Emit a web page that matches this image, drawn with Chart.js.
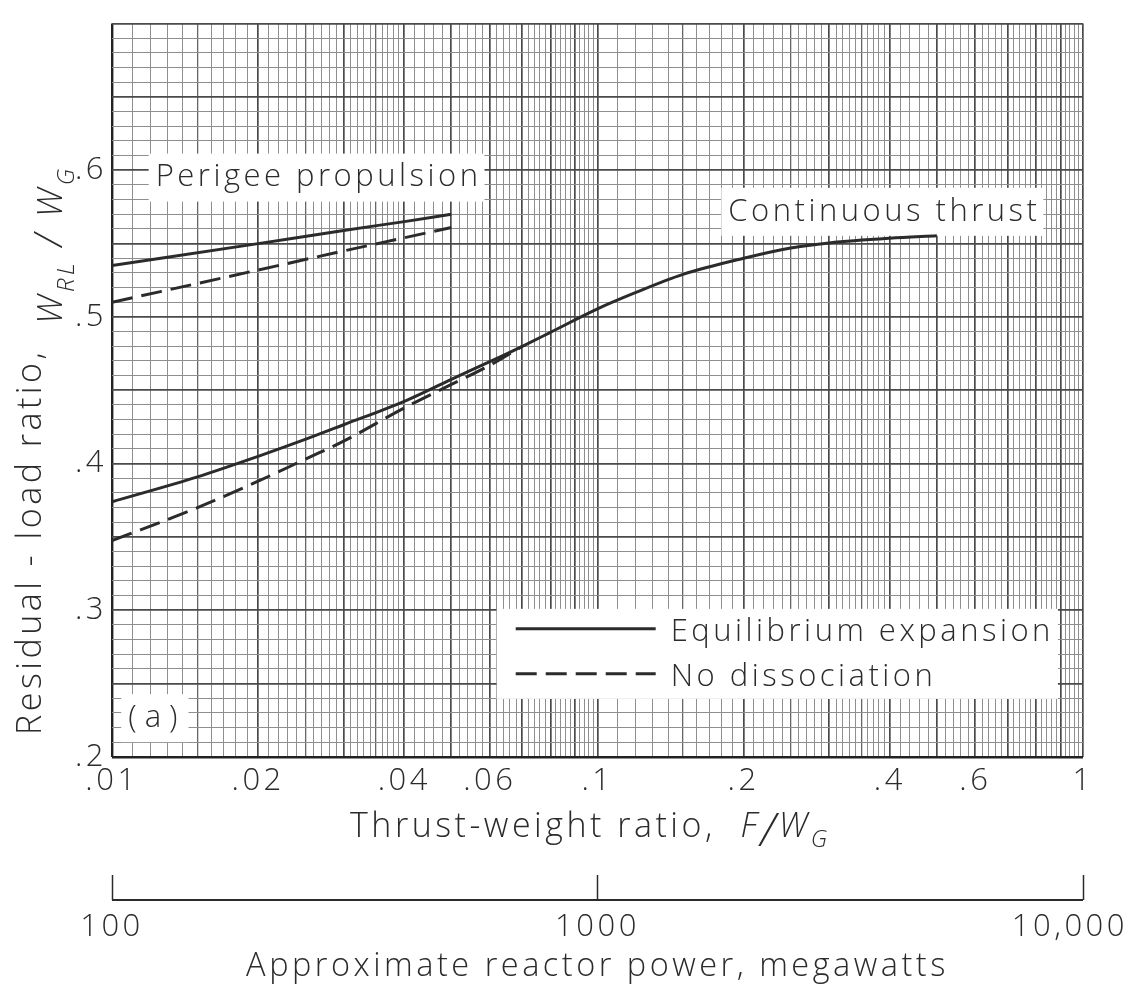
<!DOCTYPE html>
<html>
<head>
<meta charset="utf-8">
<title>Residual-load ratio vs thrust-weight ratio</title>
<script src="https://cdn.jsdelivr.net/npm/chart.js@4/dist/chart.umd.min.js"></script>
<style>
  html, body { margin: 0; padding: 0; background: #fff; }
  canvas { display: block; }
</style>
</head>
<body>
<canvas id="wrlChart" width="1134" height="985"></canvas>
<script>
// Perigee propulsion (F/W_G 0.01 - 0.05)
const perigeeX = [0.01, 0.02, 0.03, 0.04, 0.05];
const perigeeEquil = [0.535, 0.550, 0.559, 0.565, 0.570];
const perigeeNoDiss = [0.510, 0.532, 0.545, 0.554, 0.561];

// Continuous thrust
const contX = [0.01, 0.015, 0.02, 0.025, 0.03, 0.04, 0.05, 0.06, 0.07, 0.08, 0.1, 0.12, 0.15, 0.2, 0.25, 0.3, 0.4, 0.5];
const contEquil = [0.374, 0.391, 0.405, 0.4165, 0.4265, 0.4425, 0.4575, 0.4695, 0.480, 0.4895, 0.5055, 0.5167, 0.529, 0.540, 0.547, 0.5505, 0.5537, 0.5553];
const contNoDissX = [0.01, 0.015, 0.02, 0.025, 0.03, 0.04, 0.05, 0.06, 0.07];
const contNoDiss = [0.3475, 0.370, 0.388, 0.403, 0.4153, 0.438, 0.454, 0.467, 0.480];

// Axis labels
const xLabelValues = [0.01, 0.02, 0.04, 0.06, 0.1, 0.2, 0.4, 0.6, 1];
const xLabelText = ['.01', '.02', '.04', '.06', '.1', '.2', '.4', '.6', '1'];
const yLabelValues = [0.2, 0.3, 0.4, 0.5, 0.6];
const yLabelText = ['.2', '.3', '.4', '.5', '.6'];
const powerValues = [100, 1000, 10000];
const powerText = ['100', '1000', '10,000'];

const ink = '#2b2b2b';
const family = '"Open Sans", "DejaVu Sans", sans-serif';
const weight = 300;
const spacing = '3.5px';

// log paper rulings: 1-4 by 0.1, 4-10 by 0.2 in each decade
function logRulings(lo, hi) {
  const vals = [];
  for (let d = lo; d < hi * 0.999; d *= 10) {
    for (let m = 10; m < 40; m++) vals.push(Number((d * m / 10).toPrecision(6)));
    for (let m = 40; m < 100; m += 2) vals.push(Number((d * m / 10).toPrecision(6)));
  }
  vals.push(hi);
  return vals;
}
const xRulings = logRulings(0.01, 1);
const yRulings = [];
for (let i = 20; i <= 70; i++) yRulings.push(i / 100);

function xRuleKind(v) {
  if (v === 0.01) return 'edge';
  const m = Math.round(v / Math.pow(10, Math.floor(Math.log10(v) + 1e-9)) * 10);
  if (m % 10 === 0) return 'major';
  if (m === 15 || m === 25 || m === 35) return 'mid';
  return 'minor';
}
function yRuleKind(v) {
  const k = Math.round(v * 100);
  if (k === 20) return 'edge';
  return k % 5 === 0 ? 'major' : 'minor';
}
const ruleColor = { edge: '#222', major: '#4a4a4a', mid: '#666', minor: '#8e8e8e' };
const ruleWidth = { edge: 2.4, major: 1.7, mid: 1.3, minor: 1 };

function pts(xs, ys) {
  return xs.map((x, i) => ({ x: x, y: ys[i] }));
}

function fontOf(size, italic) {
  return (italic ? 'italic ' : '') + weight + ' ' + size + 'px ' + family;
}

// draws a run of text pieces (for subscripts / italics), starting at x
function drawRich(ctx, parts, x, y) {
  let cx = x;
  ctx.textAlign = 'left';
  ctx.textBaseline = 'alphabetic';
  parts.forEach(p => {
    ctx.font = fontOf(p.size, p.italic);
    ctx.fillText(p.text, cx, y + (p.dy || 0));
    cx += ctx.measureText(p.text).width;
  });
}

// Text notes on the paper
const notes = [
  { text: 'Perigee propulsion', x: 0.0123, y: 0.595 },
  { text: 'Continuous thrust', x: 0.186, y: 0.5717 },
  { text: '(a)', x: 0.0108, y: 0.2265, spacing: '8px' }
];
const legendAt = { x: 0.062, y: 0.301 };

const paperPlugin = {
  id: 'paper',
  beforeDraw(chart) {
    chart.ctx.letterSpacing = spacing;
  },
  beforeDatasetsDraw(chart) {
    const ctx = chart.ctx;
    const xs = chart.scales.x, ys = chart.scales.y;
    ctx.save();
    ctx.font = fontOf(31, false);
    ctx.textBaseline = 'middle';
    ctx.textAlign = 'left';
    notes.forEach(n => {
      ctx.letterSpacing = n.spacing || spacing;
      const px = xs.getPixelForValue(n.x);
      const py = ys.getPixelForValue(n.y);
      const w = ctx.measureText(n.text).width;
      ctx.fillStyle = '#fff';
      ctx.fillRect(px - 7, py - 24, w + 10, 48);
      ctx.fillStyle = ink;
      ctx.fillText(n.text, px, py);
    });
    ctx.letterSpacing = spacing;

    // legend box with line samples
    const seen = {};
    const items = chart.data.datasets.filter(d => {
      if (seen[d.label]) return false;
      seen[d.label] = true;
      return true;
    });
    const lx = xs.getPixelForValue(legendAt.x);
    const ly = ys.getPixelForValue(legendAt.y);
    const sample = 140;
    let tw = 0;
    items.forEach(d => { tw = Math.max(tw, ctx.measureText(d.label).width); });
    ctx.fillStyle = '#fff';
    ctx.fillRect(lx, ly, 19 + sample + 15 + tw + 4, 90);
    items.forEach((d, i) => {
      const ry = ly + 20 + i * 45;
      ctx.strokeStyle = ink;
      ctx.lineWidth = 3;
      ctx.setLineDash(d.borderDash || []);
      ctx.beginPath();
      ctx.moveTo(lx + 19, ry);
      ctx.lineTo(lx + 19 + sample, ry);
      ctx.stroke();
      ctx.setLineDash([]);
      ctx.fillStyle = ink;
      ctx.fillText(d.label, lx + 19 + sample + 15, ry + 3);
    });
    ctx.restore();
  },
  afterDraw(chart) {
    const ctx = chart.ctx;
    const area = chart.chartArea;
    ctx.save();
    ctx.letterSpacing = spacing;
    ctx.fillStyle = ink;

    // y title, reading upward from the bottom of the plot
    ctx.save();
    ctx.translate(41, 735);
    ctx.rotate(-Math.PI / 2);
    drawRich(ctx, [
      { text: 'Residual - load ratio,  ', size: 34 },
      { text: 'W', size: 34, italic: true, dy: 21 },
      { text: 'RL', size: 24, italic: true, dy: 33 },
      { text: ' / ', size: 38, italic: true, dy: 21 },
      { text: 'W', size: 34, italic: true, dy: 21 },
      { text: 'G', size: 24, italic: true, dy: 33 }
    ], 0, 0);
    ctx.restore();

    // x title
    drawRich(ctx, [
      { text: 'Thrust-weight ratio,  ', size: 34 },
      { text: 'F', size: 34, italic: true },
      { text: '/', size: 46, italic: true, dy: 9 },
      { text: 'W', size: 34, italic: true },
      { text: 'G', size: 24, italic: true, dy: 10 }
    ], 350, 837);

    // reactor power scale
    const p = chart.scales.power;
    const yLine = p.top + p.options.grid.tickLength;
    ctx.strokeStyle = ink;
    ctx.lineWidth = 2;
    ctx.beginPath();
    ctx.moveTo(p.left, yLine);
    ctx.lineTo(p.right, yLine);
    ctx.stroke();
    ctx.font = fontOf(31, false);
    ctx.textAlign = 'center';
    ctx.textBaseline = 'middle';
    powerValues.forEach((v, i) => {
      const w = ctx.measureText(powerText[i]).width;
      const px = Math.min(p.getPixelForValue(v), chart.width - 6 - w / 2);
      ctx.fillText(powerText[i], px, yLine + 27);
    });
    ctx.font = fontOf(32.5, false);
    ctx.fillText('Approximate reactor power, megawatts', (area.left + area.right) / 2, yLine + 67);
    ctx.restore();
  }
};

const tickFont = { family: family, size: 31, weight: weight };

new Chart(document.getElementById('wrlChart'), {
  type: 'line',
  data: {
    datasets: [
      { label: 'Equilibrium expansion', data: pts(perigeeX, perigeeEquil), borderDash: [] },
      { label: 'No dissociation', data: pts(perigeeX, perigeeNoDiss), borderDash: [21, 9] },
      { label: 'Equilibrium expansion', data: pts(contX, contEquil), borderDash: [] },
      { label: 'No dissociation', data: pts(contNoDissX, contNoDiss), borderDash: [21, 9] }
    ].map(d => Object.assign(d, { xAxisID: 'x', yAxisID: 'y' }))
  },
  options: {
    responsive: false,
    animation: false,
    layout: { padding: { top: 15, right: 51, left: 0, bottom: 0 } },
    elements: {
      point: { radius: 0 },
      line: { borderColor: ink, borderWidth: 3, cubicInterpolationMode: 'monotone', fill: false }
    },
    plugins: { legend: { display: false }, tooltip: { enabled: false } },
    scales: {
      x: {
        type: 'logarithmic',
        axis: 'x',
        position: 'bottom',
        weight: 0,
        min: 0.01,
        max: 1,
        afterBuildTicks: s => { s.ticks = xRulings.map(v => ({ value: v })); },
        afterFit: s => { s.height = 118; },
        border: { display: false },
        grid: {
          drawTicks: false,
          color: c => ruleColor[xRuleKind(c.tick.value)],
          lineWidth: c => ruleWidth[xRuleKind(c.tick.value)]
        },
        ticks: {
          autoSkip: false,
          maxRotation: 0,
          padding: 6,
          color: ink,
          font: tickFont,
          callback: v => {
            const i = xLabelValues.findIndex(a => Math.abs(a - v) < 1e-9);
            return i >= 0 ? xLabelText[i] : '';
          }
        }
      },
      power: {
        type: 'logarithmic',
        axis: 'x',
        position: 'bottom',
        weight: 1,
        min: 100,
        max: 10000,
        afterBuildTicks: s => { s.ticks = powerValues.map(v => ({ value: v })); },
        afterFit: s => { s.height = 110; },
        border: { display: false },
        grid: { drawOnChartArea: false, tickLength: 25, tickColor: ink, tickWidth: 1.5 },
        ticks: { display: false }
      },
      y: {
        type: 'linear',
        position: 'left',
        min: 0.2,
        max: 0.7,
        afterBuildTicks: s => { s.ticks = yRulings.map(v => ({ value: v })); },
        afterFit: s => { s.width = 112; },
        border: { display: false },
        grid: {
          drawTicks: false,
          color: c => ruleColor[yRuleKind(c.tick.value)],
          lineWidth: c => ruleWidth[yRuleKind(c.tick.value)]
        },
        ticks: {
          autoSkip: false,
          padding: 5,
          color: ink,
          font: tickFont,
          callback: v => {
            const i = yLabelValues.findIndex(a => Math.abs(a - v) < 1e-9);
            return i >= 0 ? yLabelText[i] : '';
          }
        }
      }
    }
  },
  plugins: [paperPlugin]
});
</script>
</body>
</html>
